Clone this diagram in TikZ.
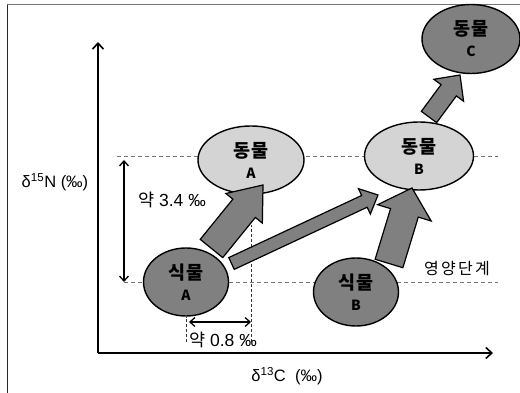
\documentclass[tikz,border=0pt]{standalone}
\usepackage{fontspec}
\setmainfont{Liberation Sans}
\newfontfamily\kr{Noto Sans CJK KR}
\newfontfamily\krwide[LetterSpace=14]{Noto Sans CJK KR}
\usepackage{tikz}
\usetikzlibrary{positioning, arrows.meta, shapes.geometric, calc, backgrounds}
\usepackage{xcolor}
\definecolor{darkfill}{RGB}{128,128,128}
\definecolor{lightfill}{RGB}{212,212,212}

% two-line label inside an ellipse
\newcommand{\organism}[2]{#1\\[1pt]{\fontsize{14}{14}\selectfont #2}}

% fat outlined arrow: tail, tip, shaft width, head width, head length
\newcommand{\flowarrow}[5]{%
  \coordinate (bt) at #1;
  \coordinate (bp) at #2;
  \coordinate (bh) at ($(bp)!#5!(bt)$);
  \draw[fatarrow] ($(bt)!#3/2!90:(bp)$) -- ($(bh)!#3/2!-90:(bt)$)
    -- ($(bh)!#4/2!-90:(bt)$) -- (bp) -- ($(bh)!#4/2!90:(bt)$)
    -- ($(bh)!#3/2!90:(bt)$) -- ($(bt)!#3/2!-90:(bp)$) -- cycle;
}

\tikzset{
  organism/.style={draw, line width=1.4pt, ellipse, inner sep=0pt, align=center,
    font=\kr\bfseries\fontsize{18.5}{20}\selectfont},
  plant/.style={organism, fill=darkfill, minimum width=85pt, minimum height=68pt},
  animal/.style={organism, fill=lightfill, minimum width=106pt, minimum height=68pt},
  fatarrow/.style={draw, line width=1.2pt, fill=darkfill, line join=miter},
  level/.style={draw=black!55, line width=0.7pt, dash pattern=on 4pt off 3pt},
  guide/.style={draw=black!80, line width=0.7pt, dash pattern=on 3pt off 2pt},
  axis/.style={line width=2pt, -{Straight Barb[length=6pt, width=11pt, line width=1.6pt]}},
  gap/.style={line width=1.6pt, {Straight Barb[length=5pt, width=9pt, line width=1.3pt]}-{Straight Barb[length=5pt, width=9pt, line width=1.3pt]}},
  note/.style={font=\fontsize{17.5}{19}\selectfont},
  axislabel/.style={font=\fontsize{16.5}{18}\selectfont}
}

\begin{document}
\begin{tikzpicture}[x=1pt, y=1pt]
  \useasboundingbox (0,0) rectangle (520,393);

  % organisms
  \node[plant] (plantA) at (186,111) {\organism{식물}{A}};
  \node[plant] (plantB) at (356,101) {\organism{식물}{B}};
  \node[animal] (animalA) at (251,233) {\organism{동물}{A}};
  \node[animal, minimum width=109pt] (animalB) at (419,237) {\organism{동물}{B}};
  \node[plant, minimum width=98pt, minimum height=69pt] (animalC) at (471,354) {\organism{동물}{C}};

  \coordinate (origin) at (98,40);
  \coordinate (levelL) at (117,0);
  \coordinate (levelR) at (498,0);
  \coordinate (gapL) at (124,0);

  \begin{scope}[on background layer]
    % frame
    \draw[line width=0.8pt, black!85] (7,0) -- (7,389);
    \draw[line width=0.8pt, black!55] (7,389) -- (520,389);
    % trophic levels and offsets
    \draw[level] (levelL |- animalB) -- (levelR |- animalB);
    \draw[level] (gapL |- plantA) -- (levelR |- plantA);
    \draw[guide] ($(animalA |- origin)+(0,11)$) -- ($(animalA)+(0,-65)$);
    \draw[guide] ($(plantA |- origin)+(0,11)$) -- (plantA.south);
  \end{scope}

  % axes
  \draw[axis] (origin) -- (98,351);
  \draw[axis] (origin) -- (493,40);
  \node[axislabel] (ylabel) at (55,211) {δ\textsuperscript{15}N (‰)};
  \node[axislabel] (xlabel) at (287,17) {δ\textsuperscript{13}C\ \ (‰)};

  % offsets between levels
  \draw[gap] ($(gapL |- animalB)+(0,-4)$) -- (gapL |- plantA);
  \draw[gap] ($(plantA |- origin)+(3,31)$) -- ($(animalA |- origin)+(0,31)$);
  \node[note] (dN) at (172,193) {{\kr 약} 3.4 ‰};
  \node[note] (dC) at (223,53) {{\kr 약} 0.8 ‰};
  \node[font=\krwide\fontsize{16}{18}\selectfont] (levelname) at (457,124) {영양단계};

  % feeding
  \flowarrow{($(plantA)+(25.5,33.5)$)}{($(animalA)+(12,-25)$)}{29pt}{47pt}{30pt}
  \flowarrow{($(plantA)+(45.5,18.5)$)}{($(animalB)+(-41,-39)$)}{13pt}{28pt}{15pt}
  \flowarrow{($(plantB)+(33,28.5)$)}{($(animalB)+(-7,-32)$)}{29pt}{56pt}{26pt}
  \flowarrow{($(animalB)+(10,39)$)}{($(animalC)+(-11,-36)$)}{19pt}{37pt}{19pt}
\end{tikzpicture}
\end{document}
